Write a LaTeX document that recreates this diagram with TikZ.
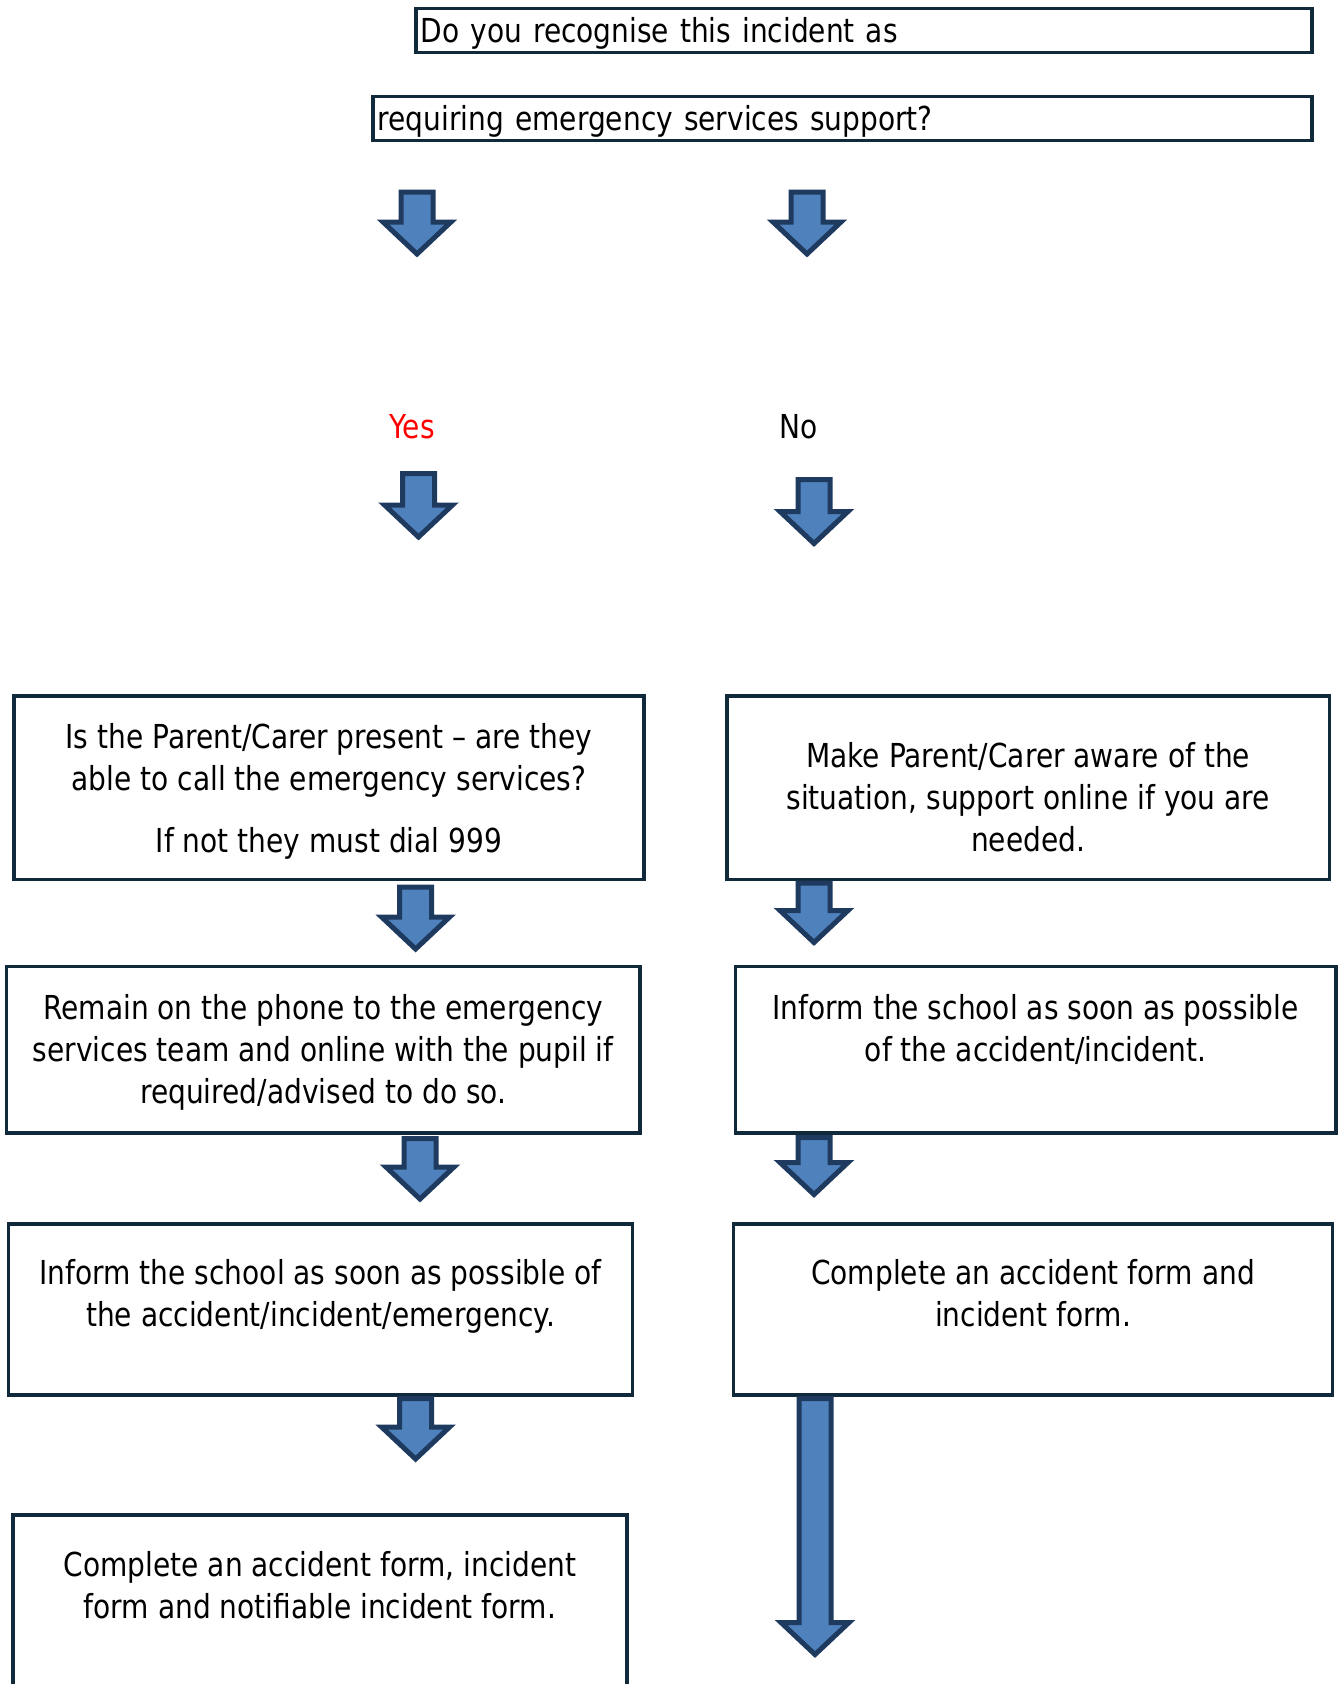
\documentclass[tikz,border=0pt]{standalone}
\usepackage{fontspec}
\setmainfont{DejaVu Sans}[FakeStretch=0.85]
\usepackage{tikz}
\usepackage{xcolor}
\usetikzlibrary{calc,positioning}
\definecolor{boxline}{HTML}{10293B}
\definecolor{arrowfill}{HTML}{4F81BD}
\definecolor{arrowline}{HTML}{1F3A5F}
\tikzset{
    flow-box/.style = {draw=boxline, line width=3.5pt, fill=white, rectangle, inner sep=0pt},
    flow-text/.style = {align=center, inner sep=0pt, font=\fontsize{33}{42}\selectfont},
    question-box/.style = {flow-box, inner xsep=5pt, minimum height=44pt, text height=28pt, text depth=5pt, align=left, font=\fontsize{33}{42}\selectfont},
    answer-text/.style = {anchor=base, inner sep=0pt, font=\fontsize{33}{42}\selectfont},
    block-arrow/.style = {draw=arrowline, fill=arrowfill, line width=5pt, line join=miter},
}
\newcommand{\flowarrow}[2]{%
  \path[block-arrow] let \p1=(#1), \p2=(#2) in
    (\x1-16pt,\y1) -- (\x1+16pt,\y1) -- (\x1+16pt,\y2+32pt) -- (\x1+34pt,\y2+32pt)
    -- (\x1,\y2) -- (\x1-34pt,\y2+32pt) -- (\x1-16pt,\y2+32pt) -- cycle;}

\begin{document}
\begin{tikzpicture}[x=1pt,y=-1pt]
\useasboundingbox (0,0) rectangle (1339,1684);

\node[question-box, text width=886pt] (q1) at (863.8,30.6) {Do you recognise this incident as};
\node[question-box, text width=929pt] (q2) at (842.3,118.7) {requiring emergency services support?};

\node[answer-text, text=red] (yes) at (412,438) {Yes};
\node[answer-text] (no) at (799,438) {No};

\node[flow-box, minimum width=630pt, minimum height=183.4pt] (l1) at (329,787.7) {};
\node[flow-text, below=29pt] (l1t) at (l1.north) {Is the Parent/Carer present – are they\\able to call the emergency services?\\[20pt]If not they must dial 999};
\node[flow-box, minimum width=602.4pt, minimum height=183.4pt] (r1) at (1028.2,787.7) {};
\node[flow-text, below=47.5pt] (r1t) at (r1.north) {Make Parent/Carer aware of the\\situation, support online if you are\\needed.};

\node[flow-box, minimum width=633.6pt, minimum height=166.5pt] (l2) at (323.2,1049.7) {};
\node[flow-text, below=29.6pt] (l2t) at (l2.north) {Remain on the phone to the emergency\\services team and online with the pupil if\\required/advised to do so.};
\node[flow-box, minimum width=600.3pt, minimum height=166.5pt] (r2) at (1035.7,1049.7) {};
\node[flow-text, below=29.6pt] (r2t) at (r2.north) {Inform the school as soon as possible\\of the accident/incident.};

\node[flow-box, minimum width=623.9pt, minimum height=170.8pt] (l3) at (320.6,1309.4) {};
\node[flow-text, below=37pt] (l3t) at (l3.north) {Inform the school as soon as possible of\\the accident/incident/emergency.};
\node[flow-box, minimum width=599.2pt, minimum height=170.8pt] (r3) at (1033,1309.4) {};
\node[flow-text, below=37pt] (r3t) at (r3.north) {Complete an accident form and\\incident form.};

\node[flow-box, minimum width=614pt, minimum height=185pt] (l4) at (320,1607.5) {};
\node[flow-text, below=38pt] (l4t) at (l4.north) {Complete an accident form, incident\\form and notifiable incident form.};

\coordinate (a1s) at (417,192);    \coordinate (a1e) at (417,254);
\coordinate (a2s) at (807,192);    \coordinate (a2e) at (807,254);
\coordinate (a3s) at (418.5,473.5);\coordinate (a3e) at (418.5,537);
\coordinate (a4s) at (814,479.5);  \coordinate (a4e) at (814,543.5);
\coordinate (a5s) at (415.6,887);  \coordinate (a5e) at (415.6,949);
\coordinate (a6s) at (814,883);    \coordinate (a6e) at (814,942.5);
\coordinate (a7s) at (420,1138.5); \coordinate (a7e) at (420,1199);
\coordinate (a8s) at (814,1137.5); \coordinate (a8e) at (814,1194.5);
\coordinate (a9s) at (415.6,1398.5);\coordinate (a9e) at (415.6,1459);
\coordinate (a10s) at (815,1398.5);\coordinate (a10e) at (815,1654.5);

\flowarrow{a1s}{a1e}
\flowarrow{a2s}{a2e}
\flowarrow{a3s}{a3e}
\flowarrow{a4s}{a4e}
\flowarrow{a5s}{a5e}
\flowarrow{a6s}{a6e}
\flowarrow{a7s}{a7e}
\flowarrow{a8s}{a8e}
\flowarrow{a9s}{a9e}
\flowarrow{a10s}{a10e}
\end{tikzpicture}
\end{document}
